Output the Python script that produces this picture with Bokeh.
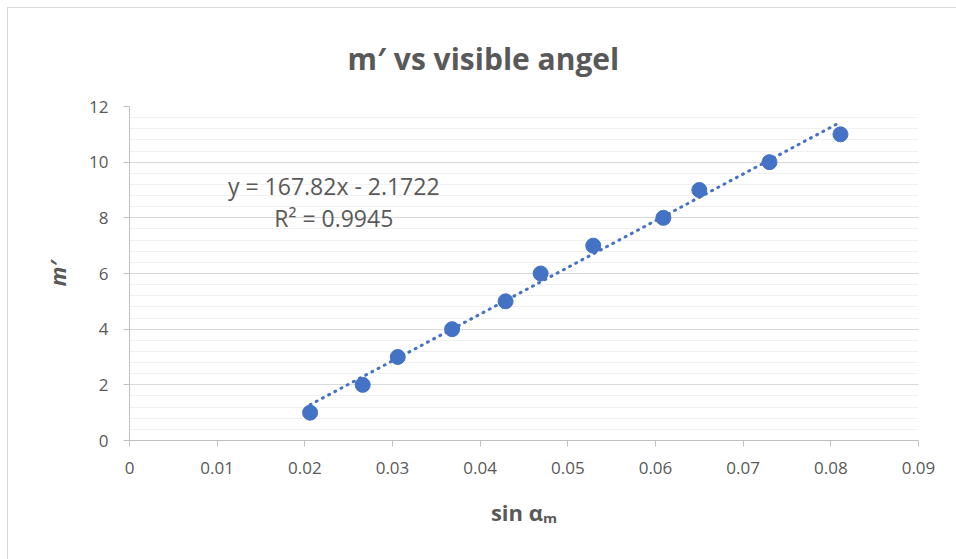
from bokeh.plotting import figure
from bokeh.models import Range1d, FixedTicker, SingleIntervalTicker, Label
from bokeh.embed import file_html
from bokeh.resources import INLINE
import numpy as np

# ---- data ----
sin_alpha = [0.0206, 0.0266, 0.0306, 0.0368, 0.0429, 0.0469, 0.0529, 0.0609, 0.0650, 0.0730, 0.0811]
m_prime = [1, 2, 3, 4, 5, 6, 7, 8, 9, 10, 11]
trend_slope = 167.82
trend_intercept = -2.1722
r_squared = 0.9945
x_ticks = [0, 0.01, 0.02, 0.03, 0.04, 0.05, 0.06, 0.07, 0.08, 0.09]
x_tick_labels = ["0", "0.01", "0.02", "0.03", "0.04", "0.05", "0.06", "0.07", "0.08", "0.09"]
y_ticks = [0, 2, 4, 6, 8, 10, 12]

FONT = "Open Sans"
TXT = "#595959"
BLUE = "#4472c4"

p = figure(width=948, height=551, output_backend="svg", toolbar_location=None,
           x_range=Range1d(0, 0.09), y_range=Range1d(0, 12),
           min_border_left=121, min_border_right=39, min_border_top=98, min_border_bottom=120,
           title="m′ vs visible angel")
p.margin = (7, 0, 0, 7)
p.styles = {"border-top": "1px solid #d9d9d9", "border-left": "1px solid #d9d9d9",
            "box-sizing": "content-box"}
p.outline_line_color = None
p.background_fill_color = "white"
p.border_fill_color = "white"

# title
p.title.text_font = FONT
p.title.text_font_size = "30px"
p.title.text_font_style = "bold"
p.title.text_color = TXT
p.title.align = "left"
p.title.offset = 218
p.title.standoff = 55

# axes
p.xaxis.ticker = FixedTicker(ticks=x_ticks)
p.xaxis.major_label_overrides = {t: l for t, l in zip(x_ticks, x_tick_labels)}
p.yaxis.ticker = SingleIntervalTicker(interval=2, num_minor_ticks=5)
for ax in (p.xaxis[0], p.yaxis[0]):
    ax.axis_line_color = "#bfbfbf"
    ax.axis_line_width = 1
    ax.major_tick_line_color = "#bfbfbf"
    ax.major_tick_in = 0
    ax.major_tick_out = 6
    ax.minor_tick_line_color = None
    ax.major_label_text_font = FONT
    ax.major_label_text_font_size = "17px"
    ax.major_label_text_color = TXT
    ax.axis_label_text_font = FONT
    ax.axis_label_text_font_size = "22px"
    ax.axis_label_text_color = TXT
p.xaxis.major_label_standoff = 15
p.yaxis.major_label_standoff = 15
p.xaxis.axis_label = "sin αₘ"
p.xaxis.axis_label_text_font_style = "bold"
p.xaxis.axis_label_standoff = 20
p.yaxis.axis_label = "m′"
p.yaxis.axis_label_text_font_style = "bold italic"
p.yaxis.axis_label_standoff = 14

p.xgrid.grid_line_color = None
p.ygrid.grid_line_color = "#d9d9d9"
p.ygrid.minor_grid_line_color = "#f0f0f0"

# trendline
xt = np.array([sin_alpha[0], sin_alpha[-1]])
p.line(xt, trend_slope * xt + trend_intercept, line_color=BLUE, line_width=3,
       line_dash="1 6", line_cap="round")

# points
p.scatter(sin_alpha, m_prime, size=15, fill_color=BLUE, line_color=BLUE)

# trendline label
p.add_layout(Label(x=0.0233, y=9.15, text=f"y = {trend_slope}x - {abs(trend_intercept)}", text_font=FONT,
                   text_font_size="23px", text_color=TXT, text_align="center", text_baseline="middle"))
p.add_layout(Label(x=0.0233, y=8.0, text=f"R² = {r_squared}", text_font=FONT,
                   text_font_size="23px", text_color=TXT, text_align="center", text_baseline="middle"))

open("out.html", "w").write(file_html(p, INLINE))
